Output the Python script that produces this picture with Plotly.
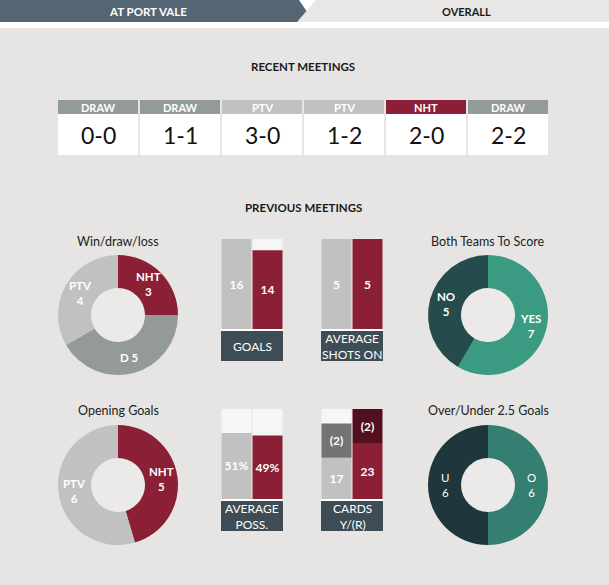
import math
import plotly.graph_objects as go

W, H = 609, 585
FONT = "Lato, 'Open Sans', sans-serif"

# ---------------- data ----------------
tabs = ["AT PORT VALE", "OVERALL"]
recent_results = ["DRAW", "DRAW", "PTV", "PTV", "NHT", "DRAW"]
recent_scores = ["0-0", "1-1", "3-0", "1-2", "2-0", "2-2"]

wdl_labels = ["NHT", "D", "PTV"]
wdl_values = [3, 5, 4]
btts_labels = ["YES", "NO"]
btts_values = [7, 5]
opening_labels = ["NHT", "PTV"]
opening_values = [5, 6]
ou_labels = ["O", "U"]
ou_values = [6, 6]

teams = ["PTV", "NHT"]
goals = [16, 14]
shots_on = [5, 5]
possession = [51, 49]
yellow_cards = [17, 23]
red_cards = [2, 2]

# ---------------- style ----------------
BG = "#e6e5e3"
HOLE = "#ebeae8"
RED = "#8a1f35"
LGRAY = "#c1c1c1"
DGREEN = "#949a97"
BAR_BG = "#f6f6f6"
LABEL_BOX = "#3e4c55"
result_colors = {"DRAW": DGREEN, "PTV": LGRAY, "NHT": RED}


def px(x):
    return x / W


def py(y):
    return 1 - y / H


fig = go.Figure()
shapes = []
annotations = []


def note(x, y, text, size, color, bold=False):
    if bold:
        text = f"<b>{text}</b>"
    annotations.append(dict(x=px(x), y=py(y), xref="paper", yref="paper", text=text,
                            showarrow=False, xanchor="center", yanchor="middle",
                            font=dict(family=FONT, size=size, color=color)))


# ---------------- tabs ----------------
shapes.append(dict(type="rect", xref="paper", yref="paper", x0=0, x1=1, y0=py(28), y1=1,
                   fillcolor="#ffffff", line_width=0, layer="below"))
shapes.append(dict(type="path", xref="paper", yref="paper",
                   path=f"M {px(316)} {py(0)} L 1 {py(0)} L 1 {py(22)} L {px(297)} {py(22)} Z",
                   fillcolor="#e9e7e5", line_width=0, layer="below"))
shapes.append(dict(type="path", xref="paper", yref="paper",
                   path=f"M 0 {py(0)} L {px(299)} {py(0)} L {px(306.5)} {py(11)} L {px(297)} {py(22)} L 0 {py(22)} Z",
                   fillcolor="#546673", line_width=0, layer="below"))
note(148, 11, tabs[0], 11.5, "white", bold=True)
note(467, 11, tabs[1], 11, "#1a1a1a", bold=True)

# ---------------- headings ----------------
note(303, 66, "RECENT MEETINGS", 11.5, "#1a1a1a", bold=True)
note(303, 207, "PREVIOUS MEETINGS", 11.5, "#1a1a1a", bold=True)

# ---------------- recent meetings ----------------
for i, (res, sc) in enumerate(zip(recent_results, recent_scores)):
    x0 = 58 + 82 * i
    x1 = x0 + 80
    shapes.append(dict(type="rect", xref="paper", yref="paper", x0=px(x0), x1=px(x1),
                       y0=py(114), y1=py(100), fillcolor=result_colors[res], line_width=0,
                       layer="below"))
    shapes.append(dict(type="rect", xref="paper", yref="paper", x0=px(x0), x1=px(x1),
                       y0=py(155), y1=py(114), fillcolor="white", line_width=0, layer="below"))
    note((x0 + x1) / 2, 107.5, res, 11, "white", bold=True)
    note((x0 + x1) / 2, 135, sc, 23, "#111111")


# ---------------- donuts ----------------
def donut(labels, values, colors, cx, cy, title, r=60, hole_r=27, bold=True):
    fig.add_trace(go.Pie(
        labels=labels, values=values, sort=False, direction="clockwise", rotation=0,
        hole=hole_r / r, marker=dict(colors=colors, line=dict(width=0)),
        textinfo="none", hoverinfo="label+value", showlegend=False,
        domain=dict(x=[px(cx - r), px(cx + r)], y=[py(cy + r), py(cy - r)]),
    ))
    shapes.append(dict(type="circle", xref="paper", yref="paper",
                       x0=px(cx - hole_r), x1=px(cx + hole_r), y0=py(cy + hole_r), y1=py(cy - hole_r),
                       fillcolor=HOLE, line_width=0, layer="below"))
    note(cx, cy - r - 14, title, 12.5, "#222222")
    total = sum(values)
    start = 0.0
    rm = (r + hole_r) / 2
    for lab, v in zip(labels, values):
        ang = start + v / total * 360 / 2
        start += v / total * 360
        a = math.radians(ang)
        lx = cx + rm * math.sin(a)
        ly = cy - rm * math.cos(a)
        txt = f"{lab} {v}" if lab == "D" else f"{lab}<br>{v}"
        note(lx, ly, txt, 11.5, "white", bold=bold)


donut(wdl_labels, wdl_values, [RED, DGREEN, LGRAY], 118, 315, "Win/draw/loss")
donut(btts_labels, btts_values, ["#3a9a82", "#264b4c"], 488, 315, "Both Teams To Score")
donut(opening_labels, opening_values, [RED, LGRAY], 118, 485, "Opening Goals")
donut(ou_labels, ou_values, ["#357f72", "#1e363c"], 488, 485, "Over/Under 2.5 Goals", bold=False)

# ---------------- bar panels ----------------
layout_axes = {}


def bar_panel(idx, x0, top, label, ymax, segments):
    """segments: list of (values, colors, texts, bases)"""
    xa = "x" if idx == 1 else f"x{idx}"
    ya = "y" if idx == 1 else f"y{idx}"
    bottom = top + 90
    layout_axes["xaxis" if idx == 1 else f"xaxis{idx}"] = dict(
        domain=[px(x0), px(x0 + 62)], visible=False, type="category",
        categoryorder="array", categoryarray=teams, anchor=ya, fixedrange=True)
    layout_axes["yaxis" if idx == 1 else f"yaxis{idx}"] = dict(
        domain=[py(bottom), py(top)], visible=False, range=[0, ymax], anchor=xa, fixedrange=True)
    fig.add_trace(go.Bar(x=teams, y=[ymax, ymax], marker=dict(color=BAR_BG, line_width=0),
                         xaxis=xa, yaxis=ya, showlegend=False, hoverinfo="skip"))
    for vals, cols, texts, bases in segments:
        fig.add_trace(go.Bar(x=teams, y=vals, base=bases, marker=dict(color=cols, line_width=0),
                             text=texts, textposition="inside", insidetextanchor="middle",
                             textangle=0, constraintext="none",
                             textfont=dict(family=FONT, size=12, color="white"),
                             xaxis=xa, yaxis=ya, showlegend=False))
    shapes.append(dict(type="rect", xref="paper", yref="paper", x0=px(x0), x1=px(x0 + 62),
                       y0=py(bottom + 2), y1=py(bottom), fillcolor="white", line_width=0))
    shapes.append(dict(type="rect", xref="paper", yref="paper", x0=px(x0), x1=px(x0 + 62),
                       y0=py(bottom + 32), y1=py(bottom + 2), fillcolor=LABEL_BOX, line_width=0))
    note(x0 + 31, bottom + 17, label, 12, "white")


bar_panel(1, 221, 239, "GOALS", max(goals),
          [(goals, [LGRAY, RED], [f"<b>{v}</b>" for v in goals], [0, 0])])
bar_panel(2, 321, 239, "AVERAGE<br>SHOTS ON", max(shots_on),
          [(shots_on, [LGRAY, RED], [f"<b>{v}</b>" for v in shots_on], [0, 0])])
bar_panel(3, 221, 409, "AVERAGE<br>POSS.", 69.5,
          [(possession, [LGRAY, RED], [f"<b>{v}%</b>" for v in possession], [0, 0])])
RED_WEIGHT = 7  # display weight of a red card relative to a yellow card
red_heights = [r * RED_WEIGHT for r in red_cards]
cards_max = max(y + h for y, h in zip(yellow_cards, red_heights))
bar_panel(4, 321, 409, "CARDS<br>Y/(R)", cards_max,
          [(yellow_cards, [LGRAY, RED], [f"<b>{v}</b>" for v in yellow_cards], [0, 0]),
           (red_heights, ["#737373", "#52101e"], [f"<b>({v})</b>" for v in red_cards], yellow_cards)])

fig.update_layout(
    width=W, height=H, margin=dict(l=0, r=0, t=0, b=0),
    paper_bgcolor=BG, plot_bgcolor="rgba(0,0,0,0)",
    barmode="overlay", bargap=1 / 31,
    shapes=shapes, annotations=annotations,
    font=dict(family=FONT),
    uniformtext=dict(mode=False),
    **layout_axes,
)

fig.write_html("out.html")
